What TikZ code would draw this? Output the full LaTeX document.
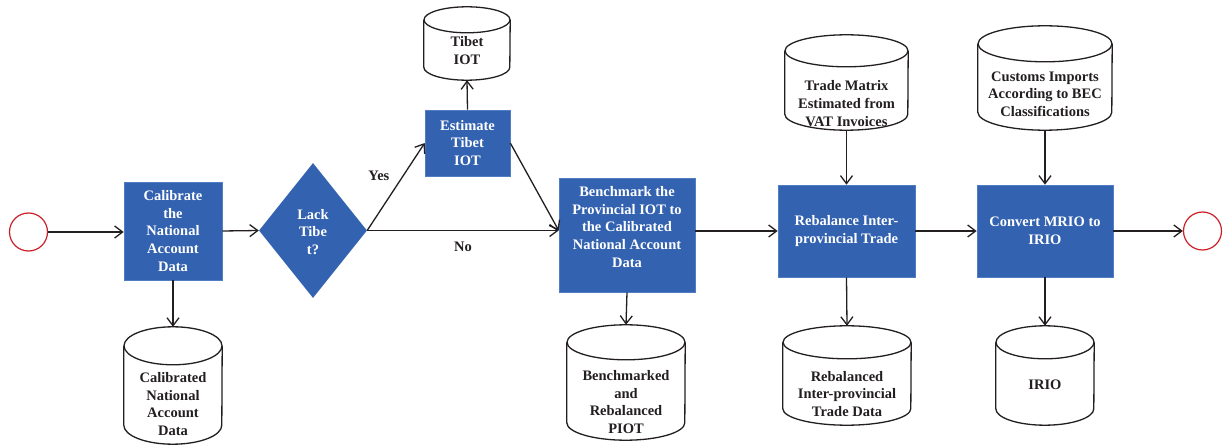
\documentclass[tikz,border=0pt]{standalone}
\usepackage{fontspec}
\setmainfont{Liberation Serif}
\usetikzlibrary{shapes.geometric,arrows.meta}
\definecolor{boxblue}{RGB}{51,98,176}
\definecolor{boxedge}{RGB}{80,125,195}
\definecolor{endred}{RGB}{204,32,39}
\definecolor{ink}{RGB}{35,31,32}
\newcommand\dbcyl[6]{%
  \node[cylbox, minimum width=2*#4pt, minimum height=2*#5pt] (#1) at (#2,#3) {};
  \draw[cylline] ([yshift=-#6pt]#1.north) ellipse[x radius=#4pt, y radius=#6pt];
  \draw[cylline] ([yshift=-#6pt]#1.north west) -- ([yshift=#6pt]#1.south west)
     arc[start angle=180, end angle=360, x radius=#4pt, y radius=#6pt]
     -- ([yshift=-#6pt]#1.north east);
}
\begin{document}
\begin{tikzpicture}[x=1pt,y=-1pt,
  every node/.style={font=\fontsize{14.5}{17.7}\selectfont\bfseries, align=center, inner sep=0pt},
  procbox/.style={rectangle, fill=boxblue, draw=boxedge, line width=0.6pt, text=white},
  decbox/.style={diamond, fill=boxblue, draw=none, text=white},
  cylbox/.style={rectangle, draw=none},
  cylline/.style={draw=ink, line width=1.3pt},
  cyltext/.style={text=ink},
  endpt/.style={circle, draw=endred, line width=1.2pt, fill=white, minimum size=38pt},
  conn/.style={draw=ink, line width=1.3pt, -{Straight Barb[length=8pt,width=12pt,line width=1.3pt]}},
  lbl/.style={text=ink}
]
\useasboundingbox (0,0) rectangle (1232,446);
\fill[white] (0,0) rectangle (1232,446);

% start / end
\node[endpt] (start) at (28.5,232) {};
\node[endpt] (stop) at (1202.5,231) {};

% process boxes
\node[procbox, minimum width=98pt, minimum height=98pt] (cal) at (173,231)
  {Calibrate\\the\\National\\Account\\Data};
\node[decbox, minimum width=108pt, minimum height=135pt] (dia) at (313,230.5) {};
\node[text=white] (dia-t) at (313,232) {Lack\\Tibe\\t?};
\node[procbox, minimum width=85pt, minimum height=66pt] (est) at (467.5,143)
  {Estimate\\Tibet\\IOT};
\node[procbox, minimum width=136pt, minimum height=114pt] (bm) at (627,235) {};
\node[text=white] (bm-t) at (627,227)
  {Benchmark the\\Provincial IOT to\\the Calibrated\\National Account\\Data};
\node[procbox, minimum width=137pt, minimum height=92pt] (reb) at (846.5,231)
  {Rebalance Inter-\\provincial Trade};
\node[procbox, minimum width=136pt, minimum height=92pt] (conv) at (1045,231)
  {Convert MRIO to\\IRIO};

% cylinders
\dbcyl{calc}{173}{385.5}{49}{58.5}{19}
\node[cyltext] (calc-t) at (173,404) {Calibrated\\National\\Account\\Data};
\dbcyl{tib}{467}{43.5}{43}{36.5}{13}
\node[cyltext] (tib-t) at (467,50.5) {Tibet\\IOT};
\dbcyl{tm}{846.5}{82.5}{61.5}{47.5}{16}
\node[cyltext] (tm-t) at (846.5,103.5) {Trade Matrix\\Estimated from\\VAT Invoices};
\dbcyl{cus}{1045}{78}{67}{52}{18}
\node[cyltext] (cus-t) at (1045,94) {Customs Imports\\According to BEC\\Classifications};
\dbcyl{piot}{626}{382.5}{59}{57.5}{17.5}
\node[cyltext] (piot-t) at (626,402) {Benchmarked\\and\\Rebalanced\\PIOT};
\dbcyl{rtd}{847}{375.5}{64}{49.5}{16.5}
\node[cyltext] (rtd-t) at (847,394) {Rebalanced\\Inter-provincial\\Trade Data};
\dbcyl{irio}{1045}{375.5}{49}{49.5}{16.5}
\node[cyltext] (irio-t) at (1045,385) {IRIO};

% connectors
\draw[conn] (start.east) -- (start.east -| cal.west);
\draw[conn] (cal.east) -- (dia.west);
\draw[conn] (dia.east) -- node[lbl, pos=0.62, xshift=-24pt] (yes) {Yes} (est.west);
\draw[conn] (dia.east) -- node[lbl, pos=0.5, yshift=-16pt] (no) {No} (bm.west |- dia.east);
\draw[conn] (est.east) -- (bm.west |- dia.east);
\draw[conn] (est.north) -- (tib.south);
\draw[conn] (cal.south) -- (calc.north);
\draw[conn] (bm.east |- reb.west) -- (reb.west);
\draw[conn] (reb.east) -- (conv.west);
\draw[conn] (conv.east) -- (stop.west);
\draw[conn] (tm.south) -- (reb.north);
\draw[conn] (cus.south) -- (conv.north);
\draw[conn] (bm.south) -- (piot.north);
\draw[conn] (reb.south) -- (rtd.north);
\draw[conn] (conv.south) -- (irio.north);
\end{tikzpicture}
\end{document}
